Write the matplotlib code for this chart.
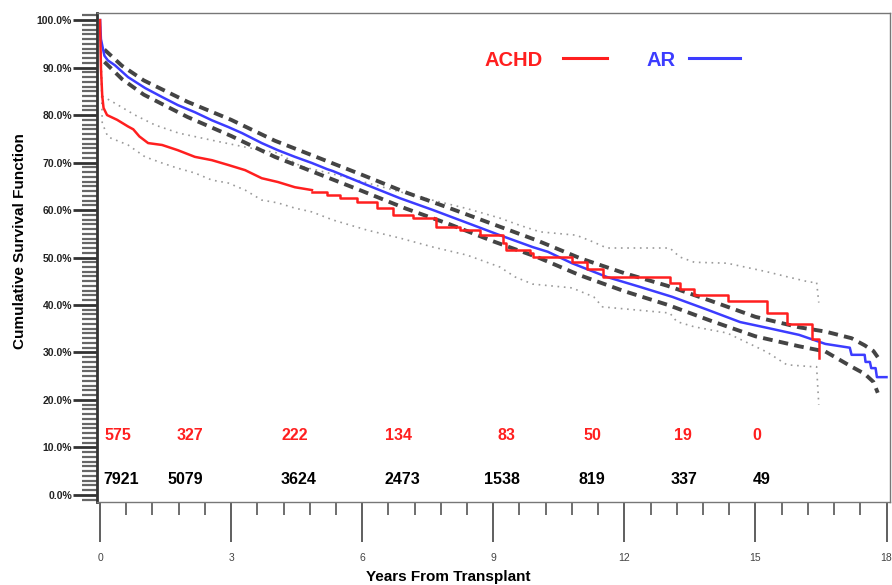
import numpy as np
import matplotlib.pyplot as plt
from matplotlib.ticker import MultipleLocator

plt.rcParams['font.family'] = ['Liberation Sans', 'DejaVu Sans']

# ACHD Kaplan-Meier estimate (years, survival %): smooth early part, visible steps later
achd_early_t = [0, 0.02, 0.05, 0.08, 0.16, 0.39, 0.64, 0.76, 0.9, 1.1, 1.42, 1.78, 2.17,
                2.56, 2.93, 3.32, 3.7, 4.07, 4.46, 4.85]
achd_early_s = [100, 90, 84, 81.5, 80, 79, 77.6, 77.0, 75.5, 74.1, 73.7, 72.6, 71.2,
                70.5, 69.5, 68.4, 66.7, 65.9, 64.8, 64.2]
achd_late_t = [4.85, 5.2, 5.5, 5.88, 6.34, 6.7, 7.16, 7.7, 8.24, 8.7, 9.22, 9.3, 9.84, 9.9,
               10.8, 11.14, 11.5, 13.04, 13.27, 13.6, 14.37, 15.26, 15.72, 16.3, 16.45]
achd_late_s = [63.8, 63.2, 62.5, 61.7, 60.4, 59.0, 58.3, 56.4, 55.8, 54.7, 53.0, 51.6, 50.9,
               50.1, 49.1, 47.6, 45.9, 44.6, 43.4, 42.1, 40.8, 38.3, 36.0, 32.8, 28.8]

# ACHD confidence limits (dotted)
achd_up_t = [0, 0.05, 0.34, 0.8, 1.26, 1.8, 2.56, 3.3, 4.07, 4.6, 5.5, 6.2, 7.0, 7.6,
             8.4, 9.15, 9.6, 10.07, 10.9, 11.28, 11.6, 13.04, 13.27, 13.6, 14.35, 15.26,
             15.7, 16.25, 16.4, 16.45]
achd_up_s = [100, 84, 82.5, 80, 77.9, 76.2, 74.7, 73.3, 72, 69.2, 67.2, 65.5, 63.5, 62.1,
             60.3, 58.3, 56.8, 55.4, 54.7, 53.3, 52, 52, 50.1, 49.0, 48.8, 47.0,
             46.0, 44.8, 44.8, 40.5]
achd_lo_t = [0, 0.05, 0.18, 0.64, 1.03, 1.42, 1.78, 2.17, 2.56, 2.93, 3.32, 3.7, 4.07,
             4.46, 4.85, 5.33, 6.1, 6.86, 7.62, 8.4, 9.15, 9.5, 9.9, 10.8, 11.3, 11.5,
             13.04, 13.2, 13.6, 14.35, 15.26, 15.72, 16.3, 16.4, 16.45]
achd_lo_s = [100, 78.3, 75.4, 73.7, 71.2, 69.9, 68.8, 67.8, 66.3, 65.7, 64.2, 62.1, 61.5,
             60.4, 59.6, 57.9, 55.8, 54.1, 52.2, 50.5, 48.0, 45.9, 44.4, 43.6, 41.7, 39.6,
             38.3, 36.5, 35.4, 34.1, 30.1, 27.4, 27.0, 27.0, 19.0]

# AR Kaplan-Meier estimate
ar_t = [0, 0.02, 0.1, 0.18, 0.34, 0.64, 1.03, 1.42, 1.78, 2.17, 2.56, 2.93, 3.25, 3.7,
        4.07, 4.46, 4.85, 5.2, 5.33, 6.1, 6.86, 7.62, 8.4, 9.15, 9.9, 10.25, 10.8, 11.6,
        12.36, 13.1, 13.9, 14.65, 15.26, 16.0, 16.6, 17.16, 17.2, 17.5, 17.52, 17.62,
        17.65, 17.75, 17.78, 18.0]
ar_s = [100, 96, 92.5, 91.5, 90.5, 88, 85.7, 83.8, 82.1, 80.6, 78.9, 77.5, 76.2, 74.1,
        72.6, 71.2, 69.9, 68.6, 68.2, 65.3, 62.5, 60, 57.3, 54.7, 52.2, 51.2, 48.8, 45.9,
        43.8, 41.7, 39.0, 36.4, 35.2, 33.7, 31.8, 31.0, 29.5, 29.5, 28.0, 28.0,
        26.7, 26.7, 24.8, 24.8]

# AR confidence limits (dashed)
ar_ci_t = [0.1, 0.5, 1, 2, 3, 4, 5, 6, 7, 8, 9, 10, 11, 12, 13, 14, 15, 16, 16.6, 17.2,
           17.5, 17.7, 17.8]
ar_up_s = [93.8, 90.4, 87.3, 82.8, 79, 74.6, 71, 67.4, 63.7, 60.4, 57, 53.6, 49.8, 46.7,
           44, 40.8, 37.5, 35.3, 34.4, 33, 31.5, 30.3, 29]
ar_lo_s = [91.2, 87.6, 84.3, 79.6, 75.6, 71.2, 67.6, 64, 60.3, 57, 53.4, 50.1, 46.2, 42.9,
           40, 36.6, 33.4, 31.3, 30.2, 27, 25.5, 23.8, 21.5]

# numbers at risk
achd_risk = [575, 327, 222, 134, 83, 50, 19, 0]
ar_risk = [7921, 5079, 3624, 2473, 1538, 819, 337, 49]
achd_risk_x = [0.40, 2.06, 4.46, 6.82, 9.29, 11.26, 13.34, 15.03]
ar_risk_x = [0.49, 1.96, 4.55, 6.91, 9.2, 11.26, 13.36, 15.15]

red = '#ff1f1f'
blue = '#3c3cff'

fig = plt.figure(figsize=(8.92, 5.85), dpi=100)
ax = fig.add_axes([97 / 892, 1 - 502 / 585, 793 / 892, 489 / 585])

dots = (0, (1, 2.8))
ax.plot(achd_up_t, achd_up_s, color='#9a9a9a', lw=1.2, ls=dots)
ax.plot(achd_lo_t, achd_lo_s, color='#9a9a9a', lw=1.2, ls=dots)
ax.plot(ar_ci_t, ar_up_s, color='#444444', lw=2.8, ls=(0, (2.5, 1.6)))
ax.plot(ar_ci_t, ar_lo_s, color='#444444', lw=2.8, ls=(0, (2.5, 1.6)))
ax.plot(ar_t, ar_s, color=blue, lw=1.8)
ax.plot(achd_early_t, achd_early_s, color=red, lw=1.8)
ax.plot(achd_late_t, achd_late_s, color=red, lw=1.8, drawstyle='steps-post')

for x, n in zip(achd_risk_x, achd_risk):
    ax.text(x, 12.6, str(n), color=red, fontsize=11.5, fontweight='bold', ha='center', va='center')
for x, n in zip(ar_risk_x, ar_risk):
    ax.text(x, 3.2, str(n), color='black', fontsize=11.5, fontweight='bold', ha='center', va='center')

# legend drawn by hand
ax.text(0.526, 0.903, 'ACHD', transform=ax.transAxes, color=red, fontsize=14.5,
        fontweight='bold', ha='center', va='center')
ax.plot([0.588, 0.643], [0.908, 0.908], transform=ax.transAxes, color=red, lw=2.2)
ax.text(0.711, 0.903, 'AR', transform=ax.transAxes, color=blue, fontsize=14.5,
        fontweight='bold', ha='center', va='center')
ax.plot([0.747, 0.811], [0.908, 0.908], transform=ax.transAxes, color=blue, lw=2.2)

ax.set_xlim(-0.07, 18.08)
ax.set_ylim(-1.5, 101.5)

ax.set_yticks(np.arange(0, 101, 10))
ax.set_yticklabels([f'{v:.1f}%' for v in np.arange(0, 101, 10)])
ax.yaxis.set_minor_locator(MultipleLocator(1))
ax.set_xticks(np.arange(0, 19, 3))
ax.xaxis.set_minor_locator(MultipleLocator(0.6))

ax.tick_params(axis='y', which='major', length=17, width=2, color='#333333',
               labelsize=7.5, pad=1, labelcolor='#222222')
ax.tick_params(axis='y', which='minor', length=11, width=1.6, color='#666666')
ax.tick_params(axis='x', which='major', length=29, width=1.2, color='#444444',
               labelsize=7.5, pad=8, labelcolor='#444444')
ax.tick_params(axis='x', which='minor', length=9, width=1.2, color='#555555')
for lab in ax.get_yticklabels():
    lab.set_fontweight('bold')

for side in ['top', 'right', 'bottom']:
    ax.spines[side].set_color('#777777')
    ax.spines[side].set_linewidth(1)
ax.spines['left'].set_color('#333333')
ax.spines['left'].set_linewidth(2)

fig.text(448 / 892, 1 - 581 / 585, 'Years From Transplant', fontsize=11, fontweight='bold',
         ha='center', va='baseline')
fig.text(20 / 892, 1 - 241 / 585, 'Cumulative Survival Function', fontsize=11,
         fontweight='bold', rotation=90, ha='center', va='center')

fig.savefig('out.png', dpi=100)
